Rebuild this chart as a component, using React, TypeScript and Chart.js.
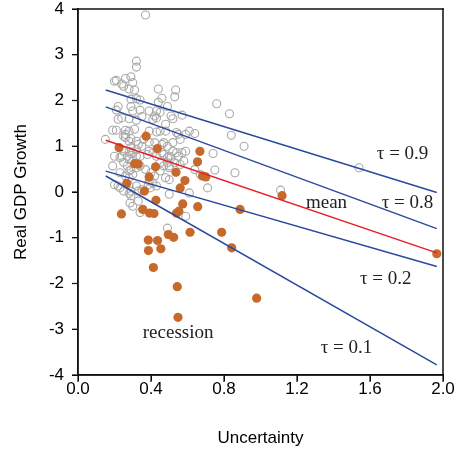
import React, { useEffect, useRef } from "react";
import { Chart, registerables } from "chart.js";

Chart.register(...registerables);

// Non-recession observations (hollow grey circles): [uncertainty, growth]
const NORMAL_POINTS: [number, number][] = [
  [0.37, 3.87], [0.32, 2.86], [0.32, 2.73],
  [0.2, 2.42], [0.21, 2.44], [0.26, 2.48], [0.29, 2.52], [0.24, 2.36], [0.25, 2.31], [0.3, 2.39],
  [0.28, 2.25], [0.31, 2.23], [0.44, 2.25], [0.535, 2.23], [0.53, 2.08], [0.46, 2.05],
  [0.29, 2.03], [0.32, 2.04], [0.34, 2.01], [0.44, 1.96], [0.76, 1.93], [0.83, 1.71],
  [0.22, 1.87], [0.29, 1.87], [0.49, 1.87], [0.21, 1.79], [0.3, 1.77], [0.34, 1.79],
  [0.43, 1.77], [0.45, 1.74], [0.39, 1.77], [0.51, 1.66], [0.57, 1.68], [0.42, 1.66], [0.43, 1.62],
  [0.22, 1.59], [0.28, 1.6], [0.32, 1.57], [0.24, 1.62], [0.35, 1.65], [0.41, 1.59], [0.52, 1.6],
  [0.48, 1.48], [0.19, 1.35], [0.21, 1.35], [0.26, 1.35], [0.28, 1.33], [0.31, 1.37],
  [0.39, 1.33], [0.43, 1.31], [0.45, 1.33], [0.48, 1.33], [0.54, 1.3], [0.55, 1.26], [0.59, 1.26],
  [0.61, 1.33], [0.64, 1.28], [0.84, 1.24], [0.91, 1.0], [0.74, 0.84], [0.86, 0.42], [0.75, 0.48],
  [0.71, 0.09], [0.15, 1.15], [0.25, 1.22], [0.26, 1.26], [0.26, 1.19], [0.29, 1.17], [0.32, 1.11],
  [0.28, 1.11], [0.33, 1.04], [0.35, 1.0], [0.39, 1.09], [0.36, 1.15], [0.42, 1.08], [0.46, 1.04],
  [0.52, 1.08], [0.47, 1.08], [0.49, 1.0], [0.56, 1.15], [0.52, 0.89], [0.57, 0.86], [0.59, 0.89],
  [0.43, 0.78], [0.47, 0.82], [0.49, 0.75], [0.28, 0.89], [0.29, 0.84], [0.32, 0.78],
  [0.2, 0.78], [0.23, 0.75], [0.25, 0.65], [0.27, 0.57], [0.28, 0.46], [0.3, 0.38],
  [0.34, 0.57], [0.37, 0.49], [0.49, 0.64], [0.5, 0.57], [0.56, 0.6], [0.45, 0.46], [0.5, 0.27],
  [0.2, 0.16], [0.22, 0.13], [0.28, 0.13], [0.29, 0.02], [0.39, 0.24], [0.41, 0.2], [0.43, 0.13],
  [0.5, -0.05], [1.11, 0.04], [1.54, 0.53], [0.285, -0.24], [0.34, -0.45], [0.49, -0.79],
  [0.59, -0.53], [0.29, -0.08], [0.29, 0.97], [0.32, 0.93], [0.39, 0.89], [0.46, 0.86],
  [0.5, 0.78], [0.54, 0.86], [0.24, 0.78], [0.27, 0.78], [0.28, 0.71], [0.3, 0.68], [0.29, 0.49],
  [0.32, 0.53], [0.45, 0.64], [0.47, 0.57], [0.5, 0.53], [0.53, 0.64], [0.58, 0.68],
  [0.19, 0.57], [0.23, 0.42], [0.26, 0.35], [0.28, 0.31], [0.64, 0.49], [0.67, 0.38],
  [0.4, 0.42], [0.42, 0.35], [0.48, 0.31], [0.23, 0.09], [0.25, 0.02], [0.28, -0.03], [0.33, 0.02],
  [0.32, 0.13], [0.35, 0.05], [0.385, 0.16], [0.395, 0.09], [0.3, -0.31], [0.33, -0.2], [0.61, -0.02],
  [0.25, 0.89], [0.3, 0.86], [0.34, 0.78], [0.38, 0.82], [0.41, 0.86], [0.51, 0.75], [0.55, 0.78],
];

// Recession observations (filled orange dots): [uncertainty, growth]
const RECESSION_POINTS: [number, number][] = [
  [0.373, 1.22], [0.225, 0.97], [0.435, 0.95], [0.31, 0.62], [0.33, 0.61], [0.425, 0.55],
  [0.39, 0.33], [0.537, 0.43], [0.668, 0.89], [0.655, 0.66], [0.682, 0.35], [0.7, 0.33],
  [0.586, 0.25], [0.56, 0.09], [0.267, 0.19], [0.364, 0.02], [0.427, -0.18], [0.574, -0.26],
  [0.656, -0.32], [0.355, -0.38], [0.392, -0.46], [0.416, -0.47], [0.238, -0.48], [0.54, -0.46],
  [0.553, -0.42], [0.888, -0.38], [0.385, -1.05], [0.436, -1.06], [0.495, -0.93], [0.524, -0.99],
  [0.614, -0.88], [0.787, -0.88], [0.842, -1.22], [0.386, -1.28], [0.454, -1.24], [0.413, -1.65],
  [0.544, -2.07], [0.548, -2.74], [0.979, -2.32], [1.118, -0.08], [1.966, -1.35],
];

// Fitted lines: endpoints in uncertainty, and growth at each endpoint
const LINE_X = [0.152, 1.966];
const Q90_Y = [2.23, -0.01];
const Q80_Y = [1.86, -0.8];
const MEAN_Y = [1.13, -1.33];
const Q20_Y = [0.456, -1.63];
const Q10_Y = [0.35, -3.78];

const X_TICKS = [0, 0.4, 0.8, 1.2, 1.6, 2.0];
const Y_TICKS = [-4, -3, -2, -1, 0, 1, 2, 3, 4];

const X_TITLE = "Uncertainty";
const Y_TITLE = "Real GDP Growth";

// Text labels anchored in data coordinates (left edge, baseline)
const LABEL_TEXTS = ["τ = 0.9", "τ = 0.8", "mean", "τ = 0.2", "τ = 0.1", "recession"];
const LABEL_X = [1.637, 1.664, 1.249, 1.545, 1.33, 0.355];
const LABEL_Y = [0.712, -0.34, -0.34, -2.005, -3.52, -3.19];

const SANS = "'Liberation Sans', Arial, Helvetica, sans-serif";
const SERIF = "'Liberation Serif', 'Times New Roman', serif";
const BLUE = "#2b4a9e";
const RED = "#e8202a";
const ORANGE = "#c6692b";
const GREY = "#a9a9a9";

function lineData(ys: number[]) {
  return LINE_X.map((x, i) => ({ x, y: ys[i] }));
}

export default function App() {
  const ref = useRef<HTMLCanvasElement | null>(null);

  useEffect(() => {
    document.body.style.margin = "0";
    const canvas = ref.current;
    if (!canvas) return;

    const overlay = {
      id: "overlay",
      afterDraw(chart: any) {
        const { ctx, chartArea, scales } = chart;
        const xs = scales.x;
        const ys = scales.y;
        const left = Math.round(chartArea.left);
        const right = Math.round(chartArea.right);
        const top = Math.round(chartArea.top);
        const bottom = Math.round(chartArea.bottom);
        ctx.save();
        ctx.globalAlpha = 1;
        // frame (filled thin rectangles)
        ctx.fillStyle = "#111";
        const w = 1.5;
        ctx.fillRect(left - w / 2, top - w / 2, right - left + w, w);
        ctx.fillRect(left - w / 2, bottom - w / 2, right - left + w, w);
        ctx.fillRect(left - w / 2, top - w / 2, w, bottom - top + w);
        ctx.fillRect(right - w / 2, top - w / 2, w, bottom - top + w);
        // tick marks
        X_TICKS.forEach((v) => {
          const px = xs.getPixelForValue(v);
          ctx.fillRect(px - 0.6, bottom, 1.2, 7);
        });
        Y_TICKS.forEach((v) => {
          const py = ys.getPixelForValue(v);
          ctx.fillRect(left - 6, py - 0.6, 6, 1.2);
        });
        // annotations
        ctx.fillStyle = "#222";
        ctx.font = `19px ${SERIF}`;
        ctx.textAlign = "left";
        ctx.textBaseline = "alphabetic";
        LABEL_TEXTS.forEach((t, i) => {
          ctx.fillText(t, xs.getPixelForValue(LABEL_X[i]), ys.getPixelForValue(LABEL_Y[i]));
        });
        // axis titles
        ctx.fillStyle = "#000";
        ctx.font = `17px ${SANS}`;
        ctx.textAlign = "center";
        ctx.textBaseline = "middle";
        ctx.fillText(X_TITLE, (left + right) / 2, 438);
        ctx.translate(21, (top + bottom) / 2);
        ctx.rotate(-Math.PI / 2);
        ctx.fillText(Y_TITLE, 0, 0);
        ctx.restore();
      },
    };

    const lineDs = (ys: number[], color: string) => ({
      type: "line" as const,
      data: lineData(ys),
      borderColor: color,
      borderWidth: 1.5,
      pointRadius: 0,
      showLine: true,
      fill: false,
      order: 0,
    });

    const chart = new Chart(canvas, {
      type: "scatter",
      data: {
        datasets: [
          lineDs(Q90_Y, BLUE),
          lineDs(Q80_Y, BLUE),
          lineDs(MEAN_Y, RED),
          lineDs(Q20_Y, BLUE),
          lineDs(Q10_Y, BLUE),
          {
            data: RECESSION_POINTS.map(([x, y]) => ({ x, y })),
            backgroundColor: ORANGE,
            borderColor: ORANGE,
            borderWidth: 0,
            pointRadius: 4.6,
            order: 1,
          } as any,
          {
            data: NORMAL_POINTS.map(([x, y]) => ({ x, y })),
            backgroundColor: "rgba(0,0,0,0)",
            borderColor: GREY,
            borderWidth: 1.1,
            pointRadius: 4,
            order: 2,
          } as any,
        ],
      },
      options: {
        animation: false,
        responsive: false,
        devicePixelRatio: 1,
        layout: { padding: { top: 9, right: 12, left: 0, bottom: 0 } },
        plugins: { legend: { display: false }, tooltip: { enabled: false } },
        scales: {
          x: {
            type: "linear",
            min: 0,
            max: 2,
            afterFit: (s: any) => {
              s.height = 75;
              s.paddingLeft = 0;
              s.paddingRight = 0;
            },
            afterBuildTicks: (s: any) => { s.ticks = X_TICKS.map((v) => ({ value: v })); },
            ticks: {
              callback: (v: any) => Number(v).toFixed(1),
              font: { family: SANS, size: 17 },
              color: "#000",
              padding: -2,
              maxRotation: 0,
            },
            grid: { display: true, drawOnChartArea: false, drawTicks: true, tickLength: 6, color: "#000", tickWidth: 1 },
            border: { display: true, color: "#111", width: 1.4 },
          },
          y: {
            type: "linear",
            min: -4,
            max: 4,
            afterFit: (s: any) => {
              s.width = 78;
              s.paddingTop = 0;
              s.paddingBottom = 0;
            },
            afterBuildTicks: (s: any) => { s.ticks = Y_TICKS.map((v) => ({ value: v })); },
            ticks: {
              callback: (v: any) => String(v),
              font: { family: SANS, size: 17 },
              color: "#000",
              padding: 8,
            },
            grid: { display: true, drawOnChartArea: false, drawTicks: true, tickLength: 6, color: "#000", tickWidth: 1 },
            border: { display: true, color: "#111", width: 1.4 },
          },
        },
      } as any,
      plugins: [overlay],
    });

    return () => chart.destroy();
  }, []);

  return (
    <div style={{ position: "absolute", left: 0, top: 0, width: 455, height: 450 }}>
      <canvas ref={ref} width={455} height={450} style={{ width: 455, height: 450 }} />
    </div>
  );
}
